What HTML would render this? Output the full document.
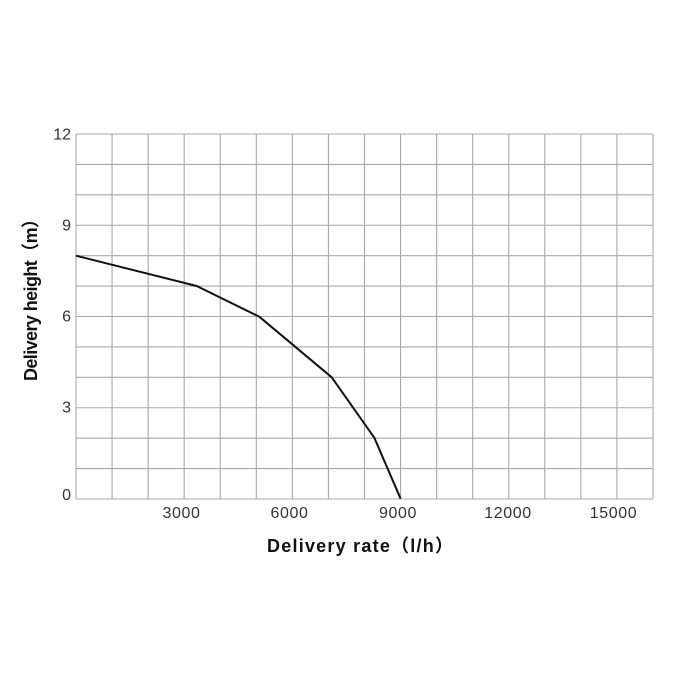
<!DOCTYPE html>
<html><head><meta charset="utf-8"><style>
html,body{margin:0;padding:0;background:#fff;}
svg{display:block;}
</style></head><body>
<svg width="700" height="700" viewBox="0 0 700 700" xmlns="http://www.w3.org/2000/svg">
<rect width="700" height="700" fill="#fff"/>
<g stroke="#a8a8a8" stroke-width="1.1" fill="none">
<line x1="76" y1="134" x2="76" y2="499"/>
<line x1="112.06" y1="134" x2="112.06" y2="499"/>
<line x1="148.12" y1="134" x2="148.12" y2="499"/>
<line x1="184.18" y1="134" x2="184.18" y2="499"/>
<line x1="220.25" y1="134" x2="220.25" y2="499"/>
<line x1="256.31" y1="134" x2="256.31" y2="499"/>
<line x1="292.37" y1="134" x2="292.37" y2="499"/>
<line x1="328.43" y1="134" x2="328.43" y2="499"/>
<line x1="364.5" y1="134" x2="364.5" y2="499"/>
<line x1="400.56" y1="134" x2="400.56" y2="499"/>
<line x1="436.62" y1="134" x2="436.62" y2="499"/>
<line x1="472.68" y1="134" x2="472.68" y2="499"/>
<line x1="508.75" y1="134" x2="508.75" y2="499"/>
<line x1="544.81" y1="134" x2="544.81" y2="499"/>
<line x1="580.87" y1="134" x2="580.87" y2="499"/>
<line x1="616.93" y1="134" x2="616.93" y2="499"/>
<line x1="653" y1="134" x2="653" y2="499"/>
<line x1="76" y1="134" x2="653" y2="134"/>
<line x1="76" y1="164.42" x2="653" y2="164.42"/>
<line x1="76" y1="194.83" x2="653" y2="194.83"/>
<line x1="76" y1="225.25" x2="653" y2="225.25"/>
<line x1="76" y1="255.67" x2="653" y2="255.67"/>
<line x1="76" y1="286.08" x2="653" y2="286.08"/>
<line x1="76" y1="316.5" x2="653" y2="316.5"/>
<line x1="76" y1="346.92" x2="653" y2="346.92"/>
<line x1="76" y1="377.33" x2="653" y2="377.33"/>
<line x1="76" y1="407.75" x2="653" y2="407.75"/>
<line x1="76" y1="438.17" x2="653" y2="438.17"/>
<line x1="76" y1="468.58" x2="653" y2="468.58"/>
<line x1="76" y1="499" x2="653" y2="499"/>
</g>
<polyline points="76,255.7 196.7,286 259.3,316.7 331.7,377.3 374.3,437.7 400.6,498.7" fill="none" stroke="#111" stroke-width="2" stroke-linejoin="round"/>
<g font-family="Liberation Sans, sans-serif" font-size="16" fill="#333" text-anchor="end">
<text x="71" y="139.5">12</text>
<text x="71" y="230.5">9</text>
<text x="71" y="321.5">6</text>
<text x="71" y="412.5">3</text>
<text x="71" y="500">0</text>
</g>
<g font-family="Liberation Sans, sans-serif" font-size="16" fill="#333" text-anchor="middle" letter-spacing="0.6">
<text x="181.5" y="518">3000</text>
<text x="289.5" y="518">6000</text>
<text x="398" y="518">9000</text>
<text x="508" y="518">12000</text>
<text x="613.5" y="518">15000</text>
</g>
<text x="267" y="552" font-family="Liberation Sans, 'Noto Sans CJK SC', sans-serif" font-size="18" font-weight="bold" fill="#111" textLength="186" lengthAdjust="spacing">Delivery rate（l/h）</text>
<text transform="translate(37,381) rotate(-90)" font-family="Liberation Sans, 'Noto Sans CJK SC', sans-serif" font-size="18" font-weight="bold" fill="#111" textLength="171" lengthAdjust="spacing">Delivery height（m）</text>
</svg>
</body></html>
